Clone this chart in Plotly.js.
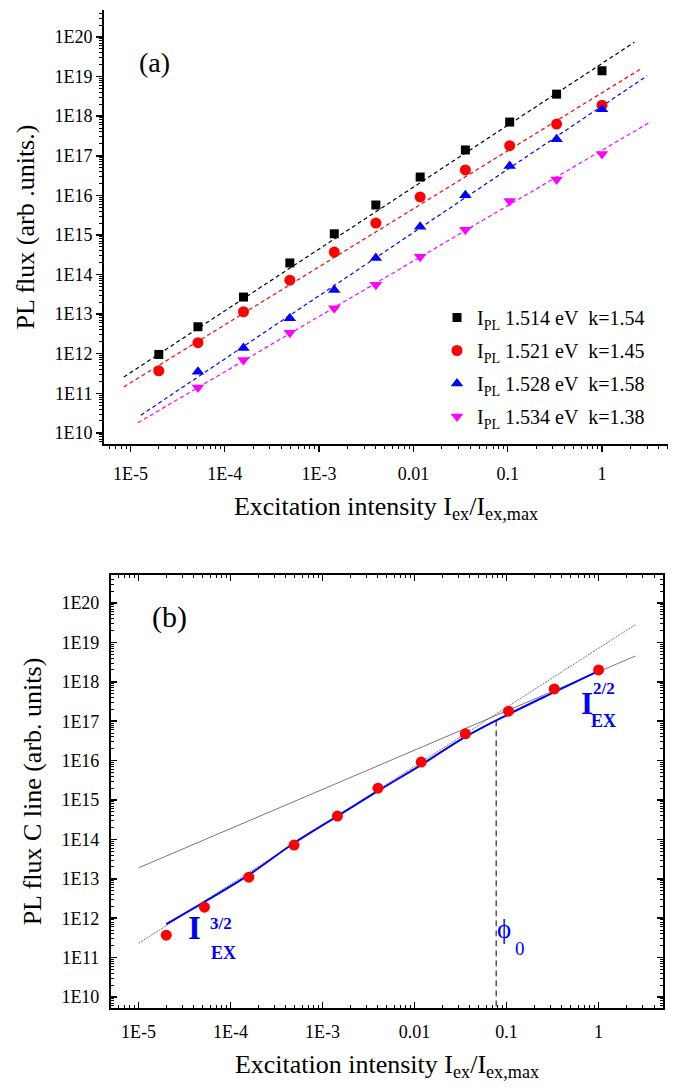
<!DOCTYPE html>
<html><head><meta charset="utf-8">
<script src="https://cdn.plot.ly/plotly-3.0.1.min.js"></script>
<style>body{margin:0;background:#fff}</style>
</head><body><div id="chart" style="width:678px;height:1092px"></div>
<script>
// ---------- data ----------
const excX      = [2e-5, 5.2e-5, 1.58e-4, 4.9e-4, 1.45e-3, 4.0e-3, 1.18e-2, 3.56e-2, 0.105, 0.33, 1];
const excXshort = [5.2e-5, 1.58e-4, 4.9e-4, 1.45e-3, 4.0e-3, 1.18e-2, 3.56e-2, 0.105, 0.33, 1];
const pl1514 = [9.6e11, 4.8e12, 2.7e13, 1.96e14, 1.07e15, 5.7e15, 2.9e16, 1.4e17, 7.1e17, 3.6e18, 1.4e19];
const pl1521 = [3.7e11, 1.9e12, 1.15e13, 7.2e13, 3.7e14, 2.0e15, 9.1e15, 4.4e16, 1.8e17, 6.3e17, 1.9e18];
const pl1528 = [3.5e11, 1.4e12, 7.9e12, 4.1e13, 2.6e14, 1.6e15, 1.0e16, 5.5e16, 2.6e17, 1.5e18];
const pl1534 = [1.4e11, 6.9e11, 3.4e12, 1.4e13, 5.5e13, 2.8e14, 1.35e15, 7.2e15, 2.5e16, 1.1e17];
const seriesNames = ['I<sub>PL</sub> 1.514 eV\u00a0\u00a0k=1.54', 'I<sub>PL</sub> 1.521 eV\u00a0\u00a0k=1.45',
                     'I<sub>PL</sub> 1.528 eV\u00a0\u00a0k=1.58', 'I<sub>PL</sub> 1.534 eV\u00a0\u00a0k=1.38'];
// fitted power-law lines (end points)
const fit1514X = [8.5e-6, 2.21], fit1514Y = [2.57e11, 7.4e19];
const fit1521X = [8.5e-6, 2.69], fit1521Y = [1.45e11, 1.66e19];
const fit1528X = [1.29e-5, 3.02], fit1528Y = [2.8e10, 1.05e19];
const fit1534X = [1.2e-5, 3.24], fit1534Y = [1.8e10, 7.1e17];
// panel (b): C line
const cLineY = [3.7e11, 1.9e12, 1.1e13, 7.2e13, 3.9e14, 2.0e15, 9.2e15, 4.8e16, 1.8e17, 6.6e17, 2.0e18];
const modelX = [2e-5, 5.2e-5, 1.58e-4, 4.9e-4, 1.45e-3, 4.0e-3, 1.18e-2, 3.56e-2, 0.105, 0.33, 1];
const modelY = [7.1e11, 2.6e12, 1.26e13, 8.1e13, 3.9e14, 1.7e15, 7.8e15, 4.0e16, 1.5e17, 5.5e17, 1.9e18];
const slope1X = [1e-5, 2.5],  slope1Y = [1.9e13, 4.5e18];
const slope32X = [1e-5, 2.5], slope32Y = [2.3e11, 2.8e19];
const phi0X = [0.077, 0.077], phi0Y = [1e9, 1.2e17];
// ticks
const xTickVals = [1e-5, 1e-4, 1e-3, 0.01, 0.1, 1];
const xTickText = ['1E-5', '1E-4', '1E-3', '0.01', '0.1', '1'];
const yTickVals = [1e10,1e11,1e12,1e13,1e14,1e15,1e16,1e17,1e18,1e19,1e20];
const yTickText = ['1E10','1E11','1E12','1E13','1E14','1E15','1E16','1E17','1E18','1E19','1E20'];

// ---------- styling ----------
const FONT = 'Liberation Serif, Times New Roman, serif';
const colors = ['#000000', '#ff0000', '#0000ff', '#ff00ff'];
const symbols = ['square', 'circle', 'triangle-up', 'triangle-down'];
const sizes = [9, 11, 11, 11];
const xsA = [excX, excX, excXshort, excXshort];
const ysA = [pl1514, pl1521, pl1528, pl1534];
const fitsX = [fit1514X, fit1521X, fit1528X, fit1534X];
const fitsY = [fit1514Y, fit1521Y, fit1528Y, fit1534Y];

const traces = [];
for (let i = 0; i < 4; i++) {
  traces.push({x: fitsX[i], y: fitsY[i], mode: 'lines', xaxis: 'x', yaxis: 'y', showlegend: false,
    line: {color: colors[i], width: 1.2, dash: '4px,3px'}, hoverinfo: 'skip'});
}
for (let i = 0; i < 4; i++) {
  traces.push({x: xsA[i], y: ysA[i], mode: 'markers', name: seriesNames[i], xaxis: 'x', yaxis: 'y',
    legendgroup: 'g' + i, marker: {symbol: symbols[i], size: sizes[i], color: colors[i]}});
}
traces.push({x: slope1X, y: slope1Y, mode: 'lines', xaxis: 'x2', yaxis: 'y2', showlegend: false,
  line: {color: '#555', width: 0.8}});
traces.push({x: slope32X, y: slope32Y, mode: 'lines', xaxis: 'x2', yaxis: 'y2', showlegend: false,
  line: {color: '#555', width: 0.8, dash: '2px,1px'}});
traces.push({x: phi0X, y: phi0Y, mode: 'lines', xaxis: 'x2', yaxis: 'y2', showlegend: false,
  line: {color: '#000', width: 1, dash: '6px,4px'}});
traces.push({x: modelX, y: modelY, mode: 'lines', xaxis: 'x2', yaxis: 'y2', showlegend: false,
  line: {color: '#0000ff', width: 2, shape: 'spline'}});
traces.push({x: excX, y: cLineY, mode: 'markers', xaxis: 'x2', yaxis: 'y2', showlegend: false,
  marker: {symbol: 'circle', size: 11, color: '#ff0000'}});

function axis(extra) {
  return Object.assign({
    type: 'log', showline: true, linewidth: 2, linecolor: '#000', showgrid: false, zeroline: false,
    ticks: 'outside', ticklen: 6, tickwidth: 1.5, tickcolor: '#000',
    tickfont: {family: FONT, size: 18, color: '#000'},
    minor: {ticks: 'outside', ticklen: 3, tickwidth: 1, tickcolor: '#000', dtick: 'D1'}
  }, extra);
}
const xTitle = 'Excitation intensity I<sub>ex</sub>/I<sub>ex,max</sub>';
const titleFont = {family: FONT, size: 26, color: '#000'};
const inMinor = {ticks: 'inside', ticklen: 3, tickwidth: 1, tickcolor: '#000', dtick: 'D1'};

const layout = {
  width: 678, height: 1092, margin: {l: 0, r: 0, t: 0, b: 0},
  paper_bgcolor: '#fff', plot_bgcolor: '#fff',
  font: {family: FONT, color: '#000'},
  showlegend: true,
  legend: {x: 437/678, y: 1 - 298/1092, xanchor: 'left', yanchor: 'top', bgcolor: 'rgba(0,0,0,0)',
    font: {family: FONT, size: 20, color: '#000'}, tracegroupgap: 4},
  xaxis: axis({domain: [0.1534, 0.9853], anchor: 'y', range: [-5.28, 0.70],
    tickmode: 'array', tickvals: xTickVals, ticktext: xTickText, ticklabelstandoff: 6,
    title: {text: xTitle, font: titleFont, standoff: 14}}),
  yaxis: axis({domain: [0.5934, 0.9908], anchor: 'x', range: [9.72, 20.68],
    tickmode: 'array', tickvals: yTickVals, ticktext: yTickText,
    title: {text: 'PL flux (arb .units.)', font: titleFont, standoff: 12}}),
  xaxis3: axis({overlaying: 'x', side: 'top', anchor: 'y', range: [-5.28, 0.70],
    tickmode: 'array', tickvals: xTickVals, ticktext: xTickText, showticklabels: false, ticks: 'inside',
    minor: inMinor}),
  yaxis3: axis({overlaying: 'y', side: 'right', anchor: 'x', range: [9.72, 20.68],
    tickmode: 'array', tickvals: yTickVals, ticktext: yTickText, showticklabels: false, ticks: 'inside',
    minor: inMinor}),
  xaxis2: axis({domain: [0.1637, 0.9779], anchor: 'y2', range: [-5.30, 0.70], mirror: 'allticks',
    tickmode: 'array', tickvals: xTickVals, ticktext: xTickText, ticks: 'inside', ticklabelstandoff: 6,
    minor: inMinor,
    title: {text: xTitle, font: titleFont, standoff: 14}}),
  yaxis2: axis({domain: [0.0769, 0.4734], anchor: 'x2', range: [9.72, 20.71], mirror: 'allticks',
    tickmode: 'array', tickvals: yTickVals, ticktext: yTickText, ticks: 'inside', ticklabelstandoff: 6,
    minor: inMinor,
    title: {text: 'PL flux C line (arb. units)', font: titleFont, standoff: 12}}),
  annotations: [
    {xref: 'paper', yref: 'paper', x: 137/678, y: 1 - 45/1092, text: '(a)', showarrow: false,
     font: {family: FONT, size: 28, color: '#000'}},
    {xref: 'paper', yref: 'paper', x: 150/678, y: 1 - 617/1092, text: '(b)', showarrow: false,
     font: {family: FONT, size: 30, color: '#000'}},
    {xref: 'paper', yref: 'paper', x: 186/678, y: 1 - 948/1092, text: '<b>I</b>', showarrow: false,
     font: {family: FONT, size: 33, color: '#0000ff'}},
    {xref: 'paper', yref: 'paper', x: 208/678, y: 1 - 935/1092, text: '<b>3/2</b>', showarrow: false,
     font: {family: FONT, size: 17, color: '#0000ff'}},
    {xref: 'paper', yref: 'paper', x: 209/678, y: 1 - 965/1092, text: '<b>EX</b>', showarrow: false,
     font: {family: FONT, size: 18, color: '#0000ff'}},
    {xref: 'paper', yref: 'paper', x: 595/678, y: 1 - 703/1092, text: '<b>I</b>', showarrow: false,
     font: {family: FONT, size: 31, color: '#0000ff'}},
    {xref: 'paper', yref: 'paper', x: 617/678, y: 1 - 688/1092, text: '<b>2/2</b>', showarrow: false,
     font: {family: FONT, size: 17, color: '#0000ff'}},
    {xref: 'paper', yref: 'paper', x: 618/678, y: 1 - 721/1092, text: '<b>EX</b>', showarrow: false,
     font: {family: FONT, size: 18, color: '#0000ff'}},
    {xref: 'paper', yref: 'paper', x: 513/678, y: 1 - 946/1092, text: '\u03d5', showarrow: false,
     font: {family: FONT, size: 27, color: '#0000ff'}},
    {xref: 'paper', yref: 'paper', x: 527/678, y: 1 - 961/1092, text: '0', showarrow: false,
     font: {family: FONT, size: 19, color: '#0000ff'}}
  ]
};
Plotly.newPlot('chart', traces, layout, {displayModeBar: false, staticPlot: true});
</script></body></html>
